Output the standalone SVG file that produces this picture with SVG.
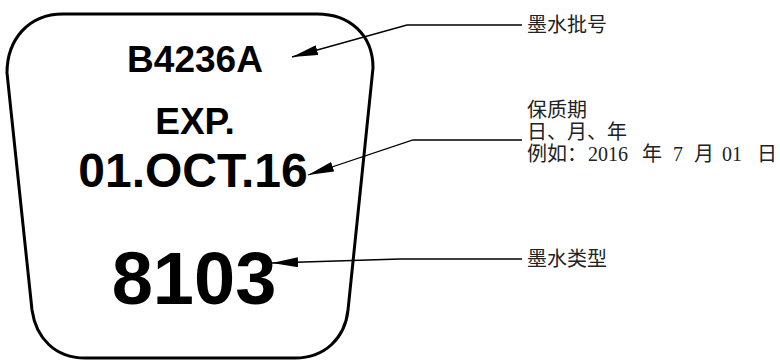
<svg xmlns="http://www.w3.org/2000/svg" width="780" height="360" viewBox="0 0 780 360">
<style>
.big{font-family:"Liberation Sans",Arial,sans-serif;font-weight:bold;fill:#000;text-anchor:middle}
.lbl{font-family:"Liberation Serif","Noto Sans CJK SC",serif;font-size:20px;fill:#222}
.ln{fill:none;stroke:#000;stroke-width:1.3}
</style>
<defs>
<marker id="ah" viewBox="0 0 26 10" refX="26" refY="5" markerWidth="26" markerHeight="10" markerUnits="userSpaceOnUse" orient="auto">
<path d="M0,0 L26,5 L0,10 z" fill="#000"/>
</marker>
</defs>
<rect width="780" height="360" fill="#fff"/>
<g id="label-shape">
<path d="M63,14 L317,14 C350,14 373,35 373,68 L348,310 C345,338 325,358 295,358 L85,358 C55,358 36,338 32,310 L7,73 C7,40 28,14 63,14 Z" fill="none" stroke="#000" stroke-width="3"/>
<text class="big" x="195" y="72" font-size="37">B4236A</text>
<text class="big" x="195" y="134" font-size="37">EXP.</text>
<text class="big" x="193" y="187" font-size="48">01.OCT.16</text>
<text class="big" x="194" y="304" font-size="74">8103</text>
</g>
<g id="connectors">
<polyline class="ln" points="522,25 407,25 292,57" marker-end="url(#ah)"/>
<polyline class="ln" points="522,140 413,140 308,175" marker-end="url(#ah)"/>
<polyline class="ln" points="522,259 400,259 272,263" marker-end="url(#ah)"/>
</g>
<g id="note-batch">
<text class="lbl" x="527" y="32">墨水批号</text>
</g>
<g id="note-expiry">
<text class="lbl" x="527" y="117">保质期</text>
<text class="lbl" x="527" y="139">日、月、年</text>
<text class="lbl" y="161"><tspan x="527">例如：</tspan><tspan x="588">2016</tspan><tspan x="642">年</tspan><tspan x="673">7</tspan><tspan x="694">月</tspan><tspan x="722">01</tspan><tspan x="757">日</tspan></text>
</g>
<g id="note-type">
<text class="lbl" x="527" y="266">墨水类型</text>
</g>
</svg>
